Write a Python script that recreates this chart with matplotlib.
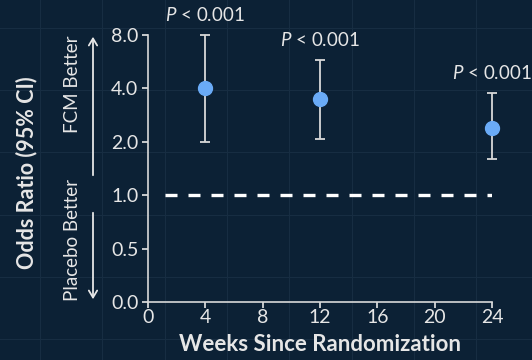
import numpy as np
import matplotlib
matplotlib.use("Agg")
import matplotlib.pyplot as plt

# data
weeks = [4, 12, 24]
odds_ratio = [4.0, 3.48, 2.39]
ci_low = [2.0, 2.07, 1.60]
ci_high = [8.0, 5.8, 3.76]
p_labels = ["P < 0.001", "P < 0.001", "P < 0.001"]

x_ticks = [0, 4, 8, 12, 16, 20, 24]
y_ticks = [0.0, 0.5, 1.0, 2.0, 4.0, 8.0]
y_ticklabels = ["0.0", "0.5", "1.0", "2.0", "4.0", "8.0"]

BG = "#0c2135"
FG = "#e6e6e6"
DOT = "#6aabf7"

plt.rcParams["font.family"] = ["Lato", "DejaVu Sans"]
plt.rcParams["mathtext.fontset"] = "custom"
plt.rcParams["mathtext.it"] = "Lato:italic"
plt.rcParams["mathtext.rm"] = "Lato"


# linear below 1, log2 above 1 -> ticks evenly spaced
def fwd(v):
    v = np.asarray(v, dtype=float)
    return np.where(v <= 1, 2 * v, 2 + np.log2(np.maximum(v, 1e-9)))


def inv(p):
    p = np.asarray(p, dtype=float)
    return np.where(p <= 2, p / 2, 2 ** (p - 2))


fig = plt.figure(figsize=(5.32, 3.6), dpi=100, facecolor=BG)

# faint background grid (decoration)
bg = fig.add_axes([0, 0, 1, 1], zorder=-1)
bg.set_facecolor(BG)
bg.set_xlim(0, 532)
bg.set_ylim(360, 0)
bg.set_xticks(np.arange(40, 532, 62.3))
bg.set_yticks(np.arange(28, 360, 62.2))
bg.grid(True, color="#172d42", lw=0.8)
bg.tick_params(length=0, labelbottom=False, labelleft=False)
for s in bg.spines.values():
    s.set_visible(False)

ax = fig.add_axes([148 / 532, 1 - 302 / 360, 344 / 532, 267 / 360])
ax.set_facecolor("none")
ax.set_yscale("function", functions=(fwd, inv))
ax.set_xlim(0, 24)
ax.set_ylim(0, 8)

ax.axhline(1.0, xmin=0.049, xmax=1.003, color="white", lw=2.4,
           dashes=(3.6, 3.3), zorder=1)

yerr = [np.array(odds_ratio) - np.array(ci_low),
        np.array(ci_high) - np.array(odds_ratio)]
ax.errorbar(weeks, odds_ratio, yerr=yerr, fmt="o", color=DOT, ms=10,
            mec=DOT, ecolor="#d8d8d8", elinewidth=1.3, capsize=3.5,
            capthick=1.3, clip_on=False, zorder=3)

for w, hi, lab in zip(weeks, ci_high, p_labels):
    ax.annotate(lab.replace("P", "$P$", 1), xy=(w, hi), xytext=(0, 8),
                textcoords="offset points", ha="center", va="bottom",
                color=FG, fontsize=13.5, annotation_clip=False)

ax.set_xticks(x_ticks)
ax.set_yticks(y_ticks)
ax.set_yticklabels(y_ticklabels)
ax.yaxis.set_minor_locator(matplotlib.ticker.NullLocator())
ax.tick_params(colors=FG, labelcolor=FG, labelsize=14, length=4, width=1.2)
ax.tick_params(axis="y", pad=3)
ax.tick_params(axis="x", pad=1)
for side in ["top", "right"]:
    ax.spines[side].set_visible(False)
for side in ["left", "bottom"]:
    ax.spines[side].set_color("#d9d9d9")
    ax.spines[side].set_linewidth(1.2)

ax.set_xlabel("Weeks Since Randomization", color=FG, fontsize=16,
              fontweight="bold", labelpad=6)
fig.text(27 / 532, 1 - 173 / 360, "Odds Ratio (95% CI)", rotation=90,
         ha="center", va="center", color=FG, fontsize=15.5, fontweight="bold")

# direction arrows
fig.text(73 / 532, 1 - 84 / 360, "FCM Better", rotation=90, ha="center",
         va="center", color=FG, fontsize=13.5)
fig.text(73 / 532, 1 - 240 / 360, "Placebo Better", rotation=90, ha="center",
         va="center", color=FG, fontsize=13.5)
fig.add_artist(matplotlib.patches.FancyArrowPatch(
    (93 / 532, 1 - 178 / 360), (93 / 532, 1 - 34 / 360),
    transform=fig.transFigure, arrowstyle="->,head_length=5,head_width=3",
    color=FG, lw=1.3))
fig.add_artist(matplotlib.patches.FancyArrowPatch(
    (93 / 532, 1 - 210 / 360), (93 / 532, 1 - 302 / 360),
    transform=fig.transFigure, arrowstyle="->,head_length=5,head_width=3",
    color=FG, lw=1.3))

fig.savefig("out.png", dpi=100, facecolor=BG)
